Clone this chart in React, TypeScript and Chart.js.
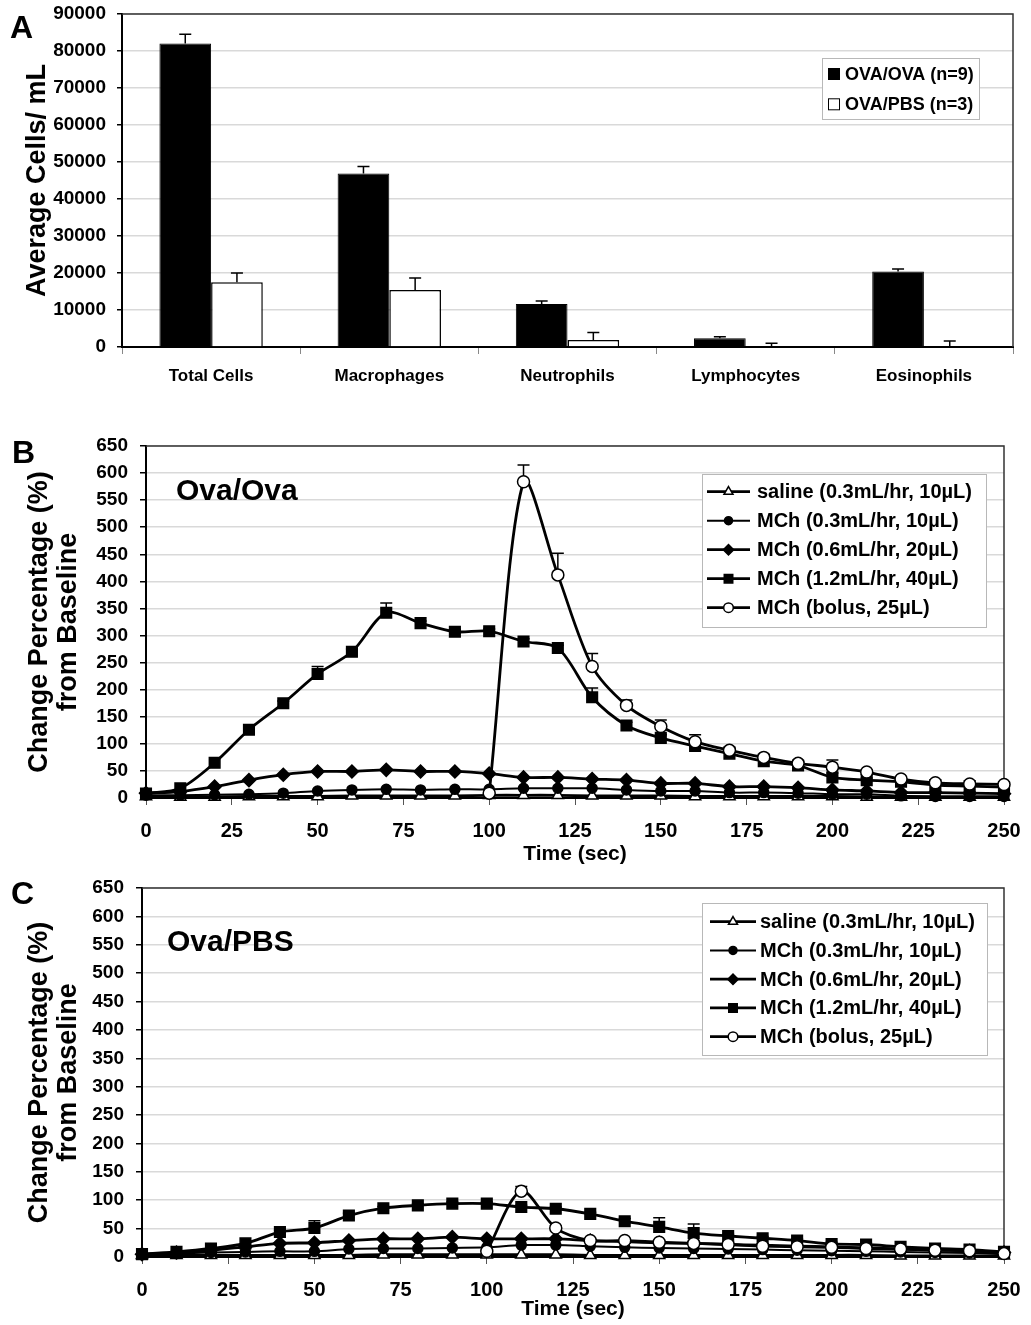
import React, { useEffect, useRef } from 'react';
import { Chart, registerables } from 'chart.js';
import { drawPoint } from 'chart.js/helpers';

Chart.register(...registerables);

const FONT = "'Liberation Sans', Arial, Helvetica, sans-serif";

// ---------- Panel A data ----------
const cellCategories = ['Total Cells', 'Macrophages', 'Neutrophils', 'Lymphocytes', 'Eosinophils'];
const cellSeriesLabels = ['OVA/OVA (n=9)', 'OVA/PBS (n=3)'];
const ovaOvaCells = [82000, 46900, 11600, 2350, 20400];
const ovaOvaErr = [2500, 1900, 800, 450, 700];
const ovaPbsCells = [17500, 15400, 1900, 0, 0];
const ovaPbsErr = [2500, 3250, 2000, 1000, 1600];
const cellTicks = [0, 10000, 20000, 30000, 40000, 50000, 60000, 70000, 80000, 90000];

// ---------- Panels B / C data ----------
const times = [0, 10, 20, 30, 40, 50, 60, 70, 80, 90, 100, 110, 120, 130, 140, 150, 160, 170, 180, 190, 200, 210, 220, 230, 240, 250];
const timeTicks = [0, 25, 50, 75, 100, 125, 150, 175, 200, 225, 250];
const pctTicks = [0, 50, 100, 150, 200, 250, 300, 350, 400, 450, 500, 550, 600, 650];
const seriesLabels = [
  'saline (0.3mL/hr, 10\u00b5L)',
  'MCh (0.3mL/hr, 10\u00b5L)',
  'MCh (0.6mL/hr, 20\u00b5L)',
  'MCh (1.2mL/hr, 40\u00b5L)',
  'MCh (bolus, 25\u00b5L)',
];

// Panel B (Ova/Ova)
const salineB = [3, 2, 2, 3, 3, 3, 4, 4, 4, 4, 5, 5, 5, 4, 4, 4, 3, 3, 3, 3, 3, 2, 2, 2, 2, 2];
const mch03B = [5, 5, 6, 7, 9, 13, 15, 16, 15, 16, 16, 18, 18, 18, 15, 13, 13, 10, 10, 9, 7, 7, 4, 3, 3, 3];
const mch06B = [9, 12, 21, 33, 43, 49, 49, 52, 49, 49, 45, 38, 38, 35, 33, 27, 27, 21, 21, 19, 15, 13, 10, 10, 9, 8];
const mch12B = [8, 18, 65, 126, 175, 229, 270, 342, 323, 307, 308, 289, 277, 186, 134, 111, 96, 82, 68, 60, 38, 33, 30, 24, 22, 20];
const bolusB = [null, null, null, null, null, null, null, null, null, null, 9, 584, 412, 243, 171, 132, 104, 88, 75, 64, 57, 48, 35, 28, 26, 25];
const mch12ErrB = [0, 0, 0, 0, 4, 14, 5, 18, 4, 4, 4, 5, 5, 17, 6, 6, 5, 5, 5, 5, 8, 4, 0, 0, 0, 0];
const bolusErrB = [0, 0, 0, 0, 0, 0, 0, 0, 0, 0, 2, 31, 40, 24, 10, 12, 13, 6, 6, 5, 13, 4, 0, 0, 0, 0];

// Panel C (Ova/PBS)
const salineC = [3, 3, 3, 3, 3, 3, 3, 4, 4, 4, 4, 4, 4, 3, 3, 3, 3, 3, 3, 3, 3, 3, 2, 2, 2, 2];
const mch03C = [5, 6, 8, 9, 10, 10, 14, 15, 15, 16, 17, 21, 21, 19, 17, 16, 15, 14, 13, 12, 11, 10, 9, 8, 7, 5];
const mch06C = [5, 8, 12, 18, 24, 25, 29, 32, 32, 35, 32, 32, 32, 29, 27, 25, 24, 22, 21, 19, 18, 16, 14, 12, 11, 8];
const mch12C = [5, 9, 15, 24, 44, 51, 73, 86, 91, 94, 94, 88, 85, 76, 63, 53, 42, 37, 33, 29, 23, 22, 18, 15, 13, 9];
const bolusC = [null, null, null, null, null, null, null, null, null, null, 10, 116, 51, 29, 29, 26, 24, 22, 19, 18, 17, 15, 14, 12, 11, 6];
const mch12ErrC = [0, 0, 0, 0, 3, 13, 4, 3, 3, 3, 3, 3, 3, 3, 5, 16, 16, 3, 3, 3, 3, 3, 0, 0, 0, 0];
const bolusErrC = [0, 0, 0, 0, 0, 0, 0, 0, 0, 0, 0, 8, 4, 0, 0, 0, 0, 0, 0, 0, 0, 0, 0, 0, 0, 0];

// ---------- styles ----------
const lineStyles = [
  { pointStyle: 'triangle', radius: 6.5, fill: '#ffffff', width: 2.8 },
  { pointStyle: 'circle', radius: 5, fill: '#000000', width: 2 },
  { pointStyle: 'rectRot', radius: 6.5, fill: '#000000', width: 2.8 },
  { pointStyle: 'rect', radius: 7.5, fill: '#000000', width: 2.8 },
  { pointStyle: 'circle', radius: 6, fill: '#ffffff', width: 2.8 },
];
const drawOrder = [4, 3, 2, 1, 0];

// ---------- plugins ----------
const framePlugin = {
  id: 'plotFrame',
  beforeDatasetsDraw(chart: any) {
    const { left, right, top, bottom } = chart.chartArea;
    const ctx = chart.ctx;
    ctx.save();
    ctx.strokeStyle = '#333333';
    ctx.lineWidth = 1.5;
    ctx.beginPath();
    ctx.moveTo(left, top);
    ctx.lineTo(right, top);
    ctx.lineTo(right, bottom);
    ctx.stroke();
    ctx.restore();
  },
};

const errorBarPlugin = {
  id: 'errorBars',
  beforeDatasetsDraw(chart: any) {
    const ctx = chart.ctx;
    const yScale = chart.scales.y;
    chart.data.datasets.forEach((ds: any, i: number) => {
      if (!ds.errors) return;
      const meta = chart.getDatasetMeta(i);
      ctx.save();
      ctx.strokeStyle = '#000';
      ctx.lineWidth = 1.5;
      ds.errors.forEach((e: number, j: number) => {
        const raw = ds.data[j];
        const v = raw !== null && typeof raw === 'object' ? raw.y : raw;
        if (v === null || v === undefined || !e) return;
        const el = meta.data[j];
        if (!el) return;
        const px = el.x;
        const y0 = yScale.getPixelForValue(v);
        const y1 = yScale.getPixelForValue(v + e);
        ctx.beginPath();
        ctx.moveTo(px, y0);
        ctx.lineTo(px, y1);
        ctx.moveTo(px - 6, y1);
        ctx.lineTo(px + 6, y1);
        ctx.stroke();
      });
      ctx.restore();
    });
  },
};

const boxLegendPlugin = {
  id: 'boxLegend',
  afterDraw(chart: any, _args: any, opts: any) {
    if (!opts || !opts.show) return;
    const ctx = chart.ctx;
    ctx.save();
    ctx.fillStyle = '#ffffff';
    ctx.fillRect(opts.x, opts.y, opts.w, opts.h);
    ctx.strokeStyle = '#b8b8b8';
    ctx.lineWidth = 1;
    ctx.strokeRect(opts.x + 0.5, opts.y + 0.5, opts.w, opts.h);
    chart.data.datasets.forEach((ds: any, i: number) => {
      const cy = opts.firstRow + i * opts.rowH;
      if (opts.kind === 'bar') {
        ctx.fillStyle = ds.backgroundColor;
        ctx.fillRect(opts.lineX0, cy - 6, 12, 12);
        ctx.strokeStyle = '#000';
        ctx.lineWidth = 1;
        ctx.strokeRect(opts.lineX0 + 0.5, cy - 5.5, 11, 11);
      } else {
        ctx.strokeStyle = ds.borderColor;
        ctx.lineWidth = ds.borderWidth;
        ctx.beginPath();
        ctx.moveTo(opts.lineX0, cy);
        ctx.lineTo(opts.lineX1, cy);
        ctx.stroke();
        ctx.fillStyle = ds.pointBackgroundColor;
        ctx.strokeStyle = ds.pointBorderColor;
        ctx.lineWidth = ds.pointBorderWidth;
        drawPoint(
          ctx,
          { pointStyle: ds.pointStyle, rotation: 0, radius: ds.pointRadius * 0.8, borderWidth: ds.pointBorderWidth } as any,
          (opts.lineX0 + opts.lineX1) / 2,
          cy
        );
      }
      ctx.fillStyle = '#000';
      ctx.font = opts.font;
      ctx.textBaseline = 'middle';
      ctx.textAlign = 'left';
      ctx.fillText(ds.label, opts.textX, cy + 1);
    });
    ctx.restore();
  },
};

const noPadY = (w: number) => (s: any) => {
  s.width = w;
  s.paddingTop = 0;
  s.paddingBottom = 0;
};
const noPadX = (h: number) => (s: any) => {
  s.height = h;
  s.paddingLeft = 0;
  s.paddingRight = 0;
};

// ---------- config builders ----------
function barConfig(): any {
  return {
    type: 'bar',
    data: {
      labels: cellCategories,
      datasets: [
        {
          label: cellSeriesLabels[0],
          data: ovaOvaCells,
          errors: ovaOvaErr,
          backgroundColor: '#000000',
          borderColor: '#000000',
          borderWidth: 1,
          categoryPercentage: 0.58,
          barPercentage: 1.0,
        },
        {
          label: cellSeriesLabels[1],
          data: ovaPbsCells,
          errors: ovaPbsErr,
          backgroundColor: '#ffffff',
          borderColor: '#000000',
          borderWidth: 1.5,
          categoryPercentage: 0.58,
          barPercentage: 1.0,
        },
      ],
    },
    options: {
      responsive: false,
      animation: false,
      devicePixelRatio: 1,
      layout: { padding: { top: 14, right: 18, left: 0, bottom: 0 } },
      plugins: {
        legend: { display: false },
        tooltip: { enabled: false },
        boxLegend: {
          show: true,
          kind: 'bar',
          x: 822, y: 58, w: 157, h: 61,
          firstRow: 74, rowH: 30.3,
          lineX0: 828, lineX1: 840, textX: 845,
          font: `bold 18px ${FONT}`,
        },
      },
      scales: {
        x: {
          type: 'category',
          grid: { offset: true, drawOnChartArea: false, drawTicks: true, tickLength: 7, tickColor: '#888888', lineWidth: 1 },
          border: { color: '#000000', width: 2 },
          ticks: { font: { size: 17, weight: 'bold', family: FONT }, color: '#000', padding: 12, maxRotation: 0 },
          afterFit: noPadX(53),
        },
        y: {
          min: cellTicks[0],
          max: cellTicks[cellTicks.length - 1],
          ticks: {
            stepSize: cellTicks[1] - cellTicks[0],
            callback: (v: any) => String(v),
            font: { size: 19, weight: 'bold', family: FONT },
            color: '#000',
            padding: 11,
          },
          grid: {
            color: (c: any) => (c.tick && c.tick.value === 0 ? 'rgba(0,0,0,0)' : '#d9d9d9'),
            lineWidth: 1.5,
            tickColor: '#000',
            tickLength: 5,
          },
          border: { color: '#000000', width: 2 },
          title: {
            display: true,
            text: 'Average Cells/ mL',
            font: { size: 27, weight: 'bold', family: FONT, lineHeight: 1.2 },
            color: '#000',
            padding: { top: 21, bottom: 0 },
          },
          afterFit: noPadY(122),
        },
      },
    },
    plugins: [framePlugin, errorBarPlugin, boxLegendPlugin],
  };
}

function lineConfig(
  series: (number | null)[][],
  errs: (number[] | null)[],
  geom: { yWidth: number; xHeight: number; padTop: number; titlePadBottom: number; legend: any }
): any {
  const datasets = series.map((vals, i) => {
    const st = lineStyles[i];
    const ds: any = {
      label: seriesLabels[i],
      data: times.map((t, j) => ({ x: t, y: vals[j] })),
      borderColor: '#000000',
      borderWidth: st.width,
      pointStyle: st.pointStyle,
      pointRadius: st.radius,
      pointBackgroundColor: st.fill,
      pointBorderColor: '#000000',
      pointBorderWidth: 1.5,
      tension: 0.3,
      spanGaps: false,
      clip: 10,
      order: drawOrder[i],
    };
    if (errs[i]) ds.errors = errs[i];
    return ds;
  });
  return {
    type: 'line',
    data: { datasets },
    options: {
      responsive: false,
      animation: false,
      devicePixelRatio: 1,
      layout: { padding: { top: geom.padTop, right: 27, left: 0, bottom: 0 } },
      plugins: {
        legend: { display: false },
        tooltip: { enabled: false },
        boxLegend: { show: true, kind: 'line', font: `bold 20px ${FONT}`, ...geom.legend },
      },
      scales: {
        x: {
          type: 'linear',
          min: timeTicks[0],
          max: timeTicks[timeTicks.length - 1],
          ticks: {
            stepSize: timeTicks[1] - timeTicks[0],
            font: { size: 20, weight: 'bold', family: FONT },
            color: '#000',
            padding: 14,
            maxRotation: 0,
            autoSkip: false,
          },
          grid: { drawOnChartArea: false, drawTicks: true, tickLength: 7, tickColor: '#555555' },
          border: { color: '#000000', width: 2 },
          title: {
            display: true,
            text: 'Time (sec)',
            font: { size: 21, weight: 'bold', family: FONT, lineHeight: 1.2 },
            color: '#000',
            padding: { top: 0, bottom: geom.titlePadBottom },
          },
          afterFit: noPadX(geom.xHeight),
        },
        y: {
          min: pctTicks[0],
          max: pctTicks[pctTicks.length - 1],
          ticks: {
            stepSize: pctTicks[1] - pctTicks[0],
            font: { size: 19, weight: 'bold', family: FONT },
            color: '#000',
            padding: 12,
          },
          grid: {
            color: (c: any) => (c.tick && c.tick.value === 0 ? 'rgba(0,0,0,0)' : '#d9d9d9'),
            lineWidth: 1.5,
            tickColor: '#000',
            tickLength: 6,
          },
          border: { color: '#000000', width: 2 },
          title: {
            display: true,
            text: ['Change Percentage (%)', 'from Baseline'],
            font: { size: 27, weight: 'bold', family: FONT, lineHeight: 1.04 },
            color: '#000',
            padding: { top: 26, bottom: 0 },
          },
          afterFit: noPadY(geom.yWidth),
        },
      },
    },
    plugins: [framePlugin, errorBarPlugin, boxLegendPlugin],
  };
}

const letterStyle: React.CSSProperties = {
  position: 'absolute',
  fontFamily: FONT,
  fontWeight: 'bold',
  fontSize: 32,
  lineHeight: 1,
  color: '#000',
  margin: 0,
};

export default function App() {
  const refA = useRef<HTMLCanvasElement>(null);
  const refB = useRef<HTMLCanvasElement>(null);
  const refC = useRef<HTMLCanvasElement>(null);

  useEffect(() => {
    const charts: Chart[] = [];
    if (refA.current) charts.push(new Chart(refA.current, barConfig()));
    if (refB.current)
      charts.push(
        new Chart(
          refB.current,
          lineConfig(
            [salineB, mch03B, mch06B, mch12B, bolusB],
            [null, null, null, mch12ErrB, bolusErrB],
            {
              yWidth: 146,
              xHeight: 72,
              padTop: 26,
              titlePadBottom: 3,
              legend: { x: 702, y: 54, w: 284, h: 153, firstRow: 71.7, rowH: 29, lineX0: 707, lineX1: 750, textX: 757 },
            }
          )
        )
      );
    if (refC.current)
      charts.push(
        new Chart(
          refC.current,
          lineConfig(
            [salineC, mch03C, mch06C, mch12C, bolusC],
            [null, null, null, mch12ErrC, bolusErrC],
            {
              yWidth: 142,
              xHeight: 68,
              padTop: 18,
              titlePadBottom: 3,
              legend: { x: 702, y: 33, w: 285, h: 152, firstRow: 51.7, rowH: 28.75, lineX0: 710, lineX1: 756, textX: 760 },
            }
          )
        )
      );
    return () => charts.forEach((c) => c.destroy());
  }, []);

  return (
    <div style={{ position: 'absolute', left: 0, top: 0, width: 1031, height: 1325, background: '#fff', overflow: 'hidden' }}>
      <canvas ref={refA} width={1031} height={400} style={{ position: 'absolute', left: 0, top: 0, display: 'block' }} />
      <canvas ref={refB} width={1031} height={450} style={{ position: 'absolute', left: 0, top: 420, display: 'block' }} />
      <canvas ref={refC} width={1031} height={455} style={{ position: 'absolute', left: 0, top: 870, display: 'block' }} />
      <div style={{ ...letterStyle, left: 10, top: 11 }}>A</div>
      <div style={{ ...letterStyle, left: 12, top: 436 }}>B</div>
      <div style={{ ...letterStyle, left: 11, top: 877 }}>C</div>
      <div style={{ ...letterStyle, fontSize: 30, left: 176, top: 475 }}>Ova/Ova</div>
      <div style={{ ...letterStyle, fontSize: 30, left: 167, top: 926 }}>Ova/PBS</div>
    </div>
  );
}
